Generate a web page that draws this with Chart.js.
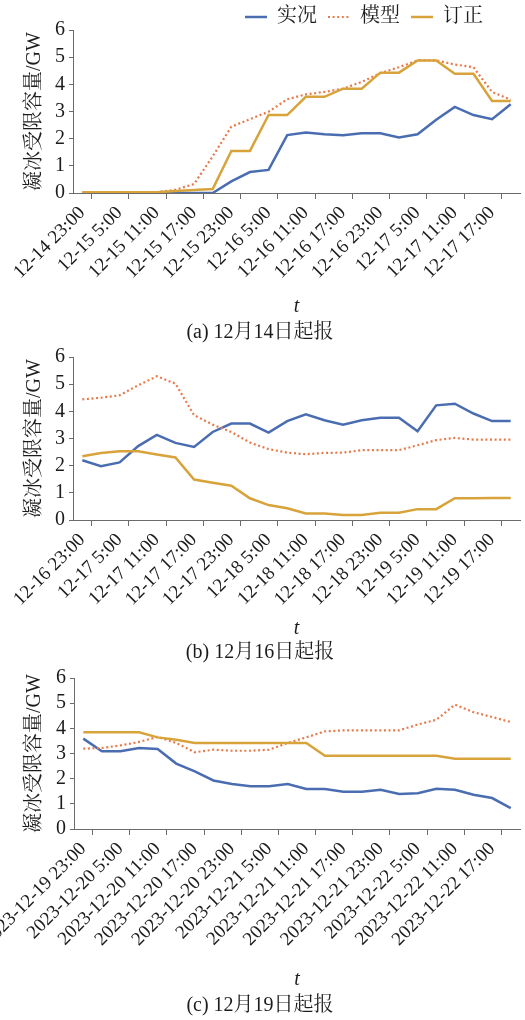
<!DOCTYPE html>
<html><head><meta charset="utf-8">
<script src="https://cdn.jsdelivr.net/npm/chart.js@4.4.0/dist/chart.umd.min.js"></script>
<style>
html,body{margin:0;padding:0;background:#fff;}
canvas{display:block;}
</style></head><body>
<canvas id="ca" width="525" height="345"></canvas>
<canvas id="cb" width="525" height="320"></canvas>
<canvas id="cc" width="525" height="355"></canvas>
<script>
// ---------- data ----------
const seriesNames = ['实况', '模型', '订正'];

const labelsA = ['12-14 23:00','12-15 2:00','12-15 5:00','12-15 8:00','12-15 11:00','12-15 14:00','12-15 17:00','12-15 20:00',
  '12-15 23:00','12-16 2:00','12-16 5:00','12-16 8:00','12-16 11:00','12-16 14:00','12-16 17:00','12-16 20:00',
  '12-16 23:00','12-17 2:00','12-17 5:00','12-17 8:00','12-17 11:00','12-17 14:00','12-17 17:00','12-17 20:00'];
const actualA    = [0,0,0,0,0,0,0,0,0.43,0.77,0.85,2.13,2.23,2.16,2.13,2.2,2.2,2.04,2.16,2.7,3.17,2.87,2.72,3.27];
const modelA     = [0.02,0.02,0.02,0.02,0.03,0.12,0.33,1.35,2.44,2.72,2.99,3.45,3.63,3.72,3.84,4.09,4.41,4.63,4.88,4.88,4.73,4.63,3.72,3.44];
const correctedA = [0.03,0.03,0.03,0.03,0.03,0.07,0.11,0.15,1.55,1.55,2.87,2.87,3.54,3.54,3.84,3.84,4.43,4.43,4.88,4.88,4.39,4.39,3.39,3.39];

const labelsB = ['12-16 23:00','12-17 2:00','12-17 5:00','12-17 8:00','12-17 11:00','12-17 14:00','12-17 17:00','12-17 20:00',
  '12-17 23:00','12-18 2:00','12-18 5:00','12-18 8:00','12-18 11:00','12-18 14:00','12-18 17:00','12-18 20:00',
  '12-18 23:00','12-19 2:00','12-19 5:00','12-19 8:00','12-19 11:00','12-19 14:00','12-19 17:00','12-19 20:00'];
const actualB    = [2.2,1.98,2.12,2.72,3.13,2.84,2.69,3.24,3.55,3.55,3.22,3.64,3.89,3.67,3.51,3.67,3.76,3.76,3.27,4.22,4.28,3.92,3.64,3.64];
const modelB     = [4.44,4.5,4.59,4.96,5.29,5.02,3.86,3.51,3.24,2.85,2.61,2.48,2.42,2.47,2.48,2.57,2.57,2.57,2.75,2.94,3.02,2.96,2.96,2.96];
const correctedB = [2.35,2.47,2.53,2.53,2.41,2.3,1.49,1.37,1.26,0.8,0.55,0.43,0.24,0.24,0.18,0.18,0.27,0.27,0.4,0.4,0.8,0.8,0.81,0.81];

const labelsC = ['2023-12-19 23:00','2023-12-20 2:00','2023-12-20 5:00','2023-12-20 8:00','2023-12-20 11:00','2023-12-20 14:00','2023-12-20 17:00','2023-12-20 20:00',
  '2023-12-20 23:00','2023-12-21 2:00','2023-12-21 5:00','2023-12-21 8:00','2023-12-21 11:00','2023-12-21 14:00','2023-12-21 17:00','2023-12-21 20:00',
  '2023-12-21 23:00','2023-12-22 2:00','2023-12-22 5:00','2023-12-22 8:00','2023-12-22 11:00','2023-12-22 14:00','2023-12-22 17:00','2023-12-22 20:00'];
const actualC    = [3.59,3.09,3.09,3.22,3.18,2.6,2.29,1.93,1.79,1.7,1.7,1.79,1.59,1.59,1.48,1.48,1.56,1.39,1.42,1.6,1.56,1.36,1.23,0.83];
const modelC     = [3.19,3.22,3.32,3.46,3.66,3.42,3.05,3.15,3.11,3.11,3.15,3.42,3.64,3.88,3.92,3.92,3.92,3.92,4.15,4.34,4.94,4.64,4.45,4.25];
const correctedC = [3.84,3.84,3.84,3.84,3.64,3.55,3.42,3.42,3.42,3.42,3.42,3.42,3.42,2.91,2.91,2.91,2.91,2.91,2.91,2.91,2.79,2.79,2.79,2.79];

const captions = ['(a) 12月14日起报', '(b) 12月16日起报', '(c) 12月19日起报'];
const yTitle = '凝冰受限容量/GW';
const xTitle = 't';

// ---------- style ----------
const SERIF = '"Liberation Serif","Times New Roman","Noto Serif CJK SC","Noto Sans CJK SC",serif';
const BLUE = '#4a6db2', ORANGE = '#e77a4a', GOLD = '#d7a33a', AXIS = '#6b6b6b', TXT = '#1c1c1c';
Chart.defaults.font.family = SERIF;
Chart.defaults.color = TXT;

// legend line samples (solid / dotted)
function legendIcon(color, width, dash) {
  const c = document.createElement('canvas');
  c.width = 22; c.height = 6;
  const g = c.getContext('2d');
  g.strokeStyle = color; g.lineWidth = width; g.setLineDash(dash);
  g.beginPath(); g.moveTo(0, 3); g.lineTo(22, 3); g.stroke();
  return c;
}
const iconBlue = legendIcon(BLUE, 2.5, []);
const iconOrange = legendIcon(ORANGE, 2.2, [2, 2.6]);
const iconGold = legendIcon(GOLD, 2.5, []);

const legendFix = {
  id: 'legendFix',
  beforeUpdate(chart) {
    const lg = chart.legend;
    if (lg && !lg.__p) {
      const f = lg.fit;
      lg.fit = function () { f.call(this); if (this.options.display) this.height = 30; };
      lg.__p = true;
    }
  },
  beforeDraw(chart) {
    const lg = chart.legend;
    if (lg && lg.options.display) { lg.left = 234; lg.top = -4; }
  }
};

function makeChart(id, labels, actual, model, corrected, cfg) {
  return new Chart(document.getElementById(id), {
    type: 'line',
    data: {
      labels: labels,
      datasets: [
        { label: seriesNames[0], data: actual, borderColor: BLUE, backgroundColor: BLUE, borderWidth: 2.5, order: 2, pointStyle: iconBlue },
        { label: seriesNames[1], data: model, borderColor: ORANGE, backgroundColor: ORANGE, borderWidth: 2.2, borderDash: [2, 2.6], order: 1, pointStyle: iconOrange },
        { label: seriesNames[2], data: corrected, borderColor: GOLD, backgroundColor: GOLD, borderWidth: 2.5, order: 0, pointStyle: iconGold }
      ]
    },
    options: {
      responsive: false,
      animation: false,
      devicePixelRatio: 1,
      elements: { point: { radius: 0, hoverRadius: 0 }, line: { tension: 0, fill: false } },
      layout: { padding: { top: cfg.padTop, bottom: cfg.padBottom, left: 0, right: 5 } },
      plugins: {
        legend: {
          display: cfg.legend,
          position: 'top',
          align: 'start',
          labels: {
            usePointStyle: true, pointStyleWidth: 22,
            padding: 11, color: TXT, font: { size: 20, family: SERIF },
            sort: (a, b) => a.datasetIndex - b.datasetIndex
          }
        },
        title: {
          display: true, position: 'bottom', text: cfg.caption, color: TXT,
          font: { size: 20, weight: 'normal', family: SERIF }, padding: { top: 0, bottom: 0 }
        },
        tooltip: { enabled: false }
      },
      scales: {
        x: {
          type: 'category',
          offset: true,
          grid: {
            offset: true, drawOnChartArea: false, drawTicks: true, tickLength: 6, lineWidth: 1,
            color: c => (c.index % 2 === 1 ? AXIS : 'rgba(0,0,0,0)')
          },
          border: { display: true, color: AXIS, width: 1 },
          ticks: {
            autoSkip: false, minRotation: 45, maxRotation: 45, padding: 3, color: TXT,
            font: { size: 19 },
            callback: function (v, i) { return i % 2 === 0 ? this.getLabelForValue(v) : ''; }
          },
          title: { display: true, text: xTitle, color: TXT, font: { size: 20, style: 'italic' }, padding: { top: 0, bottom: cfg.tPad } },
          afterFit: s => { s.height = cfg.xH; s.paddingLeft = 0; s.paddingRight = 0; }
        },
        y: {
          min: 0, max: 6,
          ticks: { stepSize: 1, autoSkip: false, padding: 4, color: TXT, font: { size: 20 } },
          grid: { drawOnChartArea: false, drawTicks: true, tickLength: 4, color: AXIS },
          border: { display: true, color: AXIS, width: 1 },
          title: { display: true, text: yTitle, color: TXT, font: { size: 20 }, padding: { top: 23, bottom: 0 } },
          afterFit: s => { s.width = cfg.yW; s.paddingTop = 0; s.paddingBottom = 0; }
        }
      }
    },
    plugins: [legendFix]
  });
}

makeChart('ca', labelsA, actualA, modelA, correctedA, { legend: true, padTop: 0, padBottom: 0, xH: 128, tPad: 2, yW: 73, caption: captions[0] });
makeChart('cb', labelsB, actualB, modelB, correctedB, { legend: false, padTop: 12, padBottom: 0, xH: 121, tPad: 0, yW: 73, caption: captions[1] });
makeChart('cc', labelsC, actualC, modelC, correctedC, { legend: false, padTop: 13, padBottom: 2, xH: 165, tPad: 2, yW: 74, caption: captions[2] });
</script>
</body></html>
